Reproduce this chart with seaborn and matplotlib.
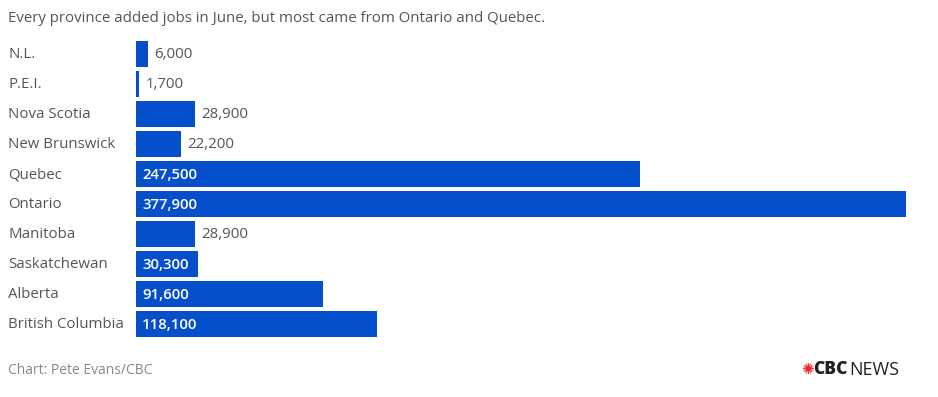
import matplotlib
matplotlib.use("Agg")
import matplotlib.pyplot as plt
import seaborn as sns
import pandas as pd

# 数据
provinces = ["N.L.", "P.E.I.", "Nova Scotia", "New Brunswick", "Quebec",
             "Ontario", "Manitoba", "Saskatchewan", "Alberta", "British Columbia"]
jobs_added = [6000, 1700, 28900, 22200, 247500, 377900, 28900, 30300, 91600, 118100]

df = pd.DataFrame({"province": provinces, "jobs": jobs_added})

sns.set_theme(style="white")
plt.rcParams["font.family"] = ["Open Sans", "DejaVu Sans"]

bar_color = "#0550CA"
text_grey = "#555555"
fs = 10.8

fig = plt.figure(figsize=(9.38, 3.97), dpi=100)
ax = fig.add_axes([136 / 938, 58 / 397, 770 / 938, 300 / 397])

sns.barplot(data=df, x="jobs", y="province", color=bar_color, width=0.84,
            saturation=1, linewidth=0, ax=ax)

ax.set_xlim(0, max(jobs_added))
ax.set_ylim(len(provinces) - 0.5, -0.5)
ax.set_xlabel("")
ax.set_ylabel("")
ax.set_xticks([])
ax.set_yticks([])
for s in ax.spines.values():
    s.set_visible(False)

# 类别标签 + 数值标签
for i, (name, val) in enumerate(zip(provinces, jobs_added)):
    ax.annotate(name, xy=(0, i), xycoords=("figure fraction", "data"),
                xytext=(8, -1), textcoords="offset pixels",
                ha="left", va="center", fontsize=fs, color=text_grey)
    label = f"{val:,}"
    if val >= 30000:
        ax.annotate(label, xy=(0, i), xytext=(6, -1), textcoords="offset pixels",
                    ha="left", va="center", fontsize=fs, color="white",
                    fontweight="semibold")
    else:
        ax.annotate(label, xy=(val, i), xytext=(6, -1), textcoords="offset pixels",
                    ha="left", va="center", fontsize=fs, color=text_grey)

# 标题与来源
fig.text(8 / 938, 1 - 18 / 397, "Every province added jobs in June, but most came from Ontario and Quebec.",
         ha="left", va="center", fontsize=fs, color=text_grey)
fig.text(8 / 938, 1 - 371 / 397, "Chart: Pete Evans/CBC",
         ha="left", va="center", fontsize=10, color="#888888")

# CBC NEWS 标志
fig.text(807 / 938, 1 - 370 / 397, "✺", ha="center", va="center",
         fontsize=11, color="#E4262A", family="DejaVu Sans")
fig.text(813 / 938, 1 - 370 / 397, "CBC", ha="left", va="center",
         fontsize=12.5, color="#222222", fontweight="heavy")
fig.text(849 / 938, 1 - 370 / 397, "NEWS", ha="left", va="center",
         fontsize=13, color="#222222")

plt.savefig("out.png", dpi=100)
plt.close()
